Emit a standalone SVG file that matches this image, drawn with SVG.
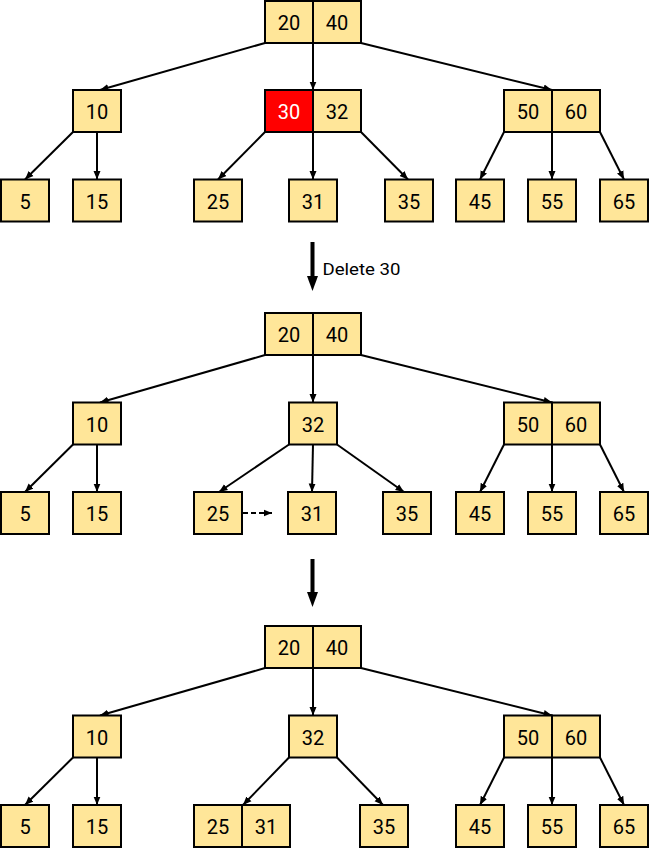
<svg xmlns="http://www.w3.org/2000/svg" width="649" height="851" viewBox="0 0 649 851">
<style>
.c{fill:#FFE699;stroke:#000;stroke-width:2}
.r{fill:#FF0000;stroke:#000;stroke-width:2}
.t{font-family:Roboto,"Liberation Sans",sans-serif;font-size:20px;fill:#000;text-anchor:middle}
.w{fill:#fff}
.e{stroke:#000;stroke-width:2;fill:none;marker-end:url(#ah)}
.d{stroke-dasharray:5 3}
.lbl{font-family:Roboto,"Liberation Sans",sans-serif;font-size:16px;fill:#000}
</style>
<defs>
<marker id="ah" markerUnits="userSpaceOnUse" markerWidth="9" markerHeight="8" refX="8.5" refY="4" orient="auto">
<path d="M0,0.5 L8.5,4 L0,7.5 z" fill="#000"/>
</marker>
</defs>
<rect width="649" height="851" fill="#fff"/>

<!-- connectors -->
<g id="connectors">
<!-- panel 1 -->
<line class="e" x1="265" y1="43" x2="100" y2="90"/>
<line class="e" x1="313" y1="43" x2="313" y2="90"/>
<line class="e" x1="361" y1="43" x2="552" y2="90"/>
<line class="e" x1="73" y1="132" x2="25" y2="179.5"/>
<line class="e" x1="97" y1="132" x2="97" y2="179.5"/>
<line class="e" x1="265" y1="132" x2="218" y2="179.5"/>
<line class="e" x1="313" y1="132" x2="313" y2="179.5"/>
<line class="e" x1="361" y1="132" x2="408" y2="179.5"/>
<line class="e" x1="504" y1="132" x2="480" y2="179.5"/>
<line class="e" x1="552" y1="132" x2="552" y2="179.5"/>
<line class="e" x1="600" y1="132" x2="624" y2="179.5"/>
<!-- panel 2 -->
<line class="e" x1="265" y1="355" x2="100" y2="402.5"/>
<line class="e" x1="313" y1="355" x2="313" y2="402.5"/>
<line class="e" x1="361" y1="355" x2="552" y2="402.5"/>
<line class="e" x1="73" y1="444.5" x2="25" y2="492"/>
<line class="e" x1="97" y1="444.5" x2="97" y2="492"/>
<line class="e" x1="289" y1="444.5" x2="219" y2="492"/>
<line class="e" x1="313" y1="444.5" x2="312" y2="492"/>
<line class="e" x1="337" y1="444.5" x2="404" y2="492"/>
<line class="e d" x1="243" y1="513" x2="272" y2="513"/>
<line class="e" x1="504" y1="444.5" x2="480" y2="492"/>
<line class="e" x1="552" y1="444.5" x2="552" y2="492"/>
<line class="e" x1="600" y1="444.5" x2="624" y2="492"/>
<!-- panel 3 -->
<line class="e" x1="265" y1="668" x2="100" y2="715.5"/>
<line class="e" x1="313" y1="668" x2="313" y2="715.5"/>
<line class="e" x1="361" y1="668" x2="552" y2="715.5"/>
<line class="e" x1="73" y1="757.5" x2="25" y2="805"/>
<line class="e" x1="97" y1="757.5" x2="97" y2="805"/>
<line class="e" x1="289" y1="757.5" x2="243" y2="805"/>
<line class="e" x1="337" y1="757.5" x2="383" y2="805"/>
<line class="e" x1="504" y1="757.5" x2="480" y2="805"/>
<line class="e" x1="552" y1="757.5" x2="552" y2="805"/>
<line class="e" x1="600" y1="757.5" x2="624" y2="805"/>
</g>

<!-- step arrows -->
<g id="step1">
<rect x="310.5" y="242" width="4" height="36" fill="#000"/>
<polygon points="307,276 318,276 312.5,291" fill="#000"/>
<text class="lbl" x="322.5" y="275" textLength="78" lengthAdjust="spacingAndGlyphs">Delete 30</text>
</g>
<g id="step2">
<rect x="310.5" y="559" width="4" height="34" fill="#000"/>
<polygon points="307,592 318,592 312.5,607" fill="#000"/>
</g>

<!-- Panel 1 nodes -->
<g id="p1-root"><rect class="c" x="265" y="1" width="48" height="42"/><rect class="c" x="313" y="1" width="48" height="42"/><text class="t" x="289" y="30">20</text><text class="t" x="337" y="30">40</text></g>
<g id="p1-10"><rect class="c" x="73" y="90" width="48" height="42"/><text class="t" x="97" y="119">10</text></g>
<g id="p1-30-32"><rect class="r" x="265" y="90" width="48" height="42"/><rect class="c" x="313" y="90" width="48" height="42"/><text class="t w" x="289" y="119">30</text><text class="t" x="337" y="119">32</text></g>
<g id="p1-50-60"><rect class="c" x="504" y="90" width="48" height="42"/><rect class="c" x="552" y="90" width="48" height="42"/><text class="t" x="528" y="119">50</text><text class="t" x="576" y="119">60</text></g>
<g id="p1-5"><rect class="c" x="1" y="179.5" width="48" height="42"/><text class="t" x="25" y="208.5">5</text></g>
<g id="p1-15"><rect class="c" x="73" y="179.5" width="48" height="42"/><text class="t" x="97" y="208.5">15</text></g>
<g id="p1-25"><rect class="c" x="194" y="179.5" width="48" height="42"/><text class="t" x="218" y="208.5">25</text></g>
<g id="p1-31"><rect class="c" x="289" y="179.5" width="48" height="42"/><text class="t" x="313" y="208.5">31</text></g>
<g id="p1-35"><rect class="c" x="385" y="179.5" width="48" height="42"/><text class="t" x="409" y="208.5">35</text></g>
<g id="p1-45"><rect class="c" x="456" y="179.5" width="48" height="42"/><text class="t" x="480" y="208.5">45</text></g>
<g id="p1-55"><rect class="c" x="528" y="179.5" width="48" height="42"/><text class="t" x="552" y="208.5">55</text></g>
<g id="p1-65"><rect class="c" x="600" y="179.5" width="48" height="42"/><text class="t" x="624" y="208.5">65</text></g>

<!-- Panel 2 nodes -->
<g id="p2-root"><rect class="c" x="265" y="313" width="48" height="42"/><rect class="c" x="313" y="313" width="48" height="42"/><text class="t" x="289" y="342">20</text><text class="t" x="337" y="342">40</text></g>
<g id="p2-10"><rect class="c" x="73" y="402.5" width="48" height="42"/><text class="t" x="97" y="431.5">10</text></g>
<g id="p2-32"><rect class="c" x="289" y="402.5" width="48" height="42"/><text class="t" x="313" y="431.5">32</text></g>
<g id="p2-50-60"><rect class="c" x="504" y="402.5" width="48" height="42"/><rect class="c" x="552" y="402.5" width="48" height="42"/><text class="t" x="528" y="431.5">50</text><text class="t" x="576" y="431.5">60</text></g>
<g id="p2-5"><rect class="c" x="1" y="492" width="48" height="42"/><text class="t" x="25" y="521">5</text></g>
<g id="p2-15"><rect class="c" x="73" y="492" width="48" height="42"/><text class="t" x="97" y="521">15</text></g>
<g id="p2-25"><rect class="c" x="194" y="492" width="48" height="42"/><text class="t" x="218" y="521">25</text></g>
<g id="p2-31"><rect class="c" x="288" y="492" width="48" height="42"/><text class="t" x="312" y="521">31</text></g>
<g id="p2-35"><rect class="c" x="383" y="492" width="48" height="42"/><text class="t" x="407" y="521">35</text></g>
<g id="p2-45"><rect class="c" x="456" y="492" width="48" height="42"/><text class="t" x="480" y="521">45</text></g>
<g id="p2-55"><rect class="c" x="528" y="492" width="48" height="42"/><text class="t" x="552" y="521">55</text></g>
<g id="p2-65"><rect class="c" x="600" y="492" width="48" height="42"/><text class="t" x="624" y="521">65</text></g>

<!-- Panel 3 nodes -->
<g id="p3-root"><rect class="c" x="265" y="626" width="48" height="42"/><rect class="c" x="313" y="626" width="48" height="42"/><text class="t" x="289" y="655">20</text><text class="t" x="337" y="655">40</text></g>
<g id="p3-10"><rect class="c" x="73" y="715.5" width="48" height="42"/><text class="t" x="97" y="744.5">10</text></g>
<g id="p3-32"><rect class="c" x="289" y="715.5" width="48" height="42"/><text class="t" x="313" y="744.5">32</text></g>
<g id="p3-50-60"><rect class="c" x="504" y="715.5" width="48" height="42"/><rect class="c" x="552" y="715.5" width="48" height="42"/><text class="t" x="528" y="744.5">50</text><text class="t" x="576" y="744.5">60</text></g>
<g id="p3-5"><rect class="c" x="1" y="805" width="48" height="42"/><text class="t" x="25" y="834">5</text></g>
<g id="p3-15"><rect class="c" x="73" y="805" width="48" height="42"/><text class="t" x="97" y="834">15</text></g>
<g id="p3-25-31"><rect class="c" x="194" y="805" width="48" height="42"/><rect class="c" x="242" y="805" width="48" height="42"/><text class="t" x="218" y="834">25</text><text class="t" x="266" y="834">31</text></g>
<g id="p3-35"><rect class="c" x="360" y="805" width="48" height="42"/><text class="t" x="384" y="834">35</text></g>
<g id="p3-45"><rect class="c" x="456" y="805" width="48" height="42"/><text class="t" x="480" y="834">45</text></g>
<g id="p3-55"><rect class="c" x="528" y="805" width="48" height="42"/><text class="t" x="552" y="834">55</text></g>
<g id="p3-65"><rect class="c" x="600" y="805" width="48" height="42"/><text class="t" x="624" y="834">65</text></g>
</svg>
